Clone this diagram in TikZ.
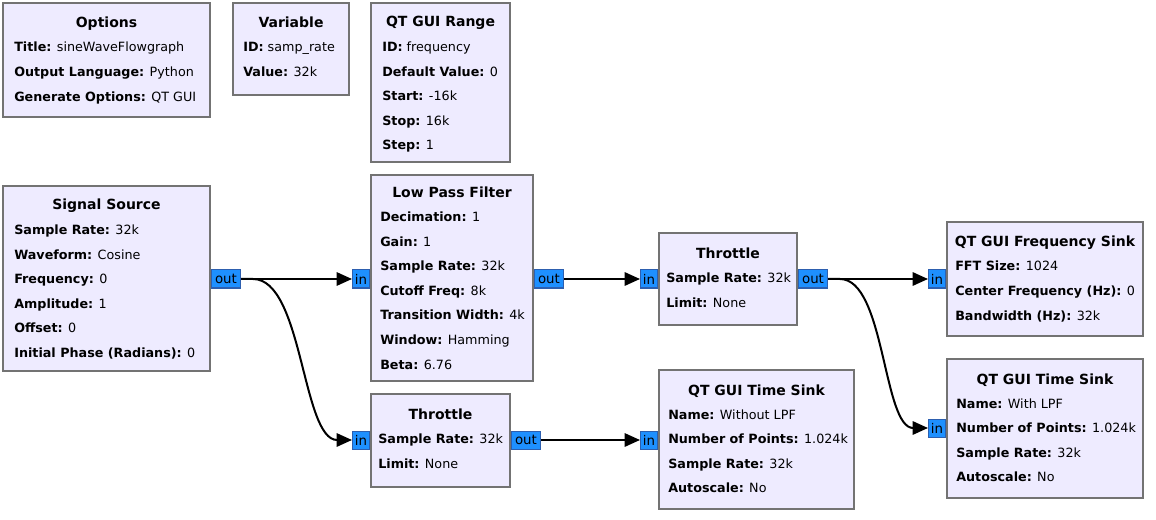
\documentclass[tikz,border=0pt]{standalone}
\usepackage{fontspec}
\setmainfont{DejaVu Sans}
\usepackage{xcolor}
\usetikzlibrary{arrows.meta,positioning,calc,fit}

\definecolor{blkfill}{RGB}{238,235,255}
\definecolor{blkline}{RGB}{115,115,115}
\definecolor{portfill}{RGB}{30,144,255}
\definecolor{portline}{RGB}{45,95,175}
\newcommand{\kv}[2]{\textbf{#1:} #2}
\newcommand{\params}[1]{\begin{tabular}[t]{@{}l@{}}#1\end{tabular}}

\begin{document}
\begin{tikzpicture}[x=0.75pt, y=-0.75pt,
    blk/.style={draw=blkline, fill=blkfill, line width=1.5pt, inner sep=0pt},
    ttl/.style={font=\fontsize{10.5}{18.45}\selectfont\bfseries, anchor=base, inner sep=0pt},
    prm/.style={font=\fontsize{9.55}{18.45}\selectfont, anchor=base west, inner sep=0pt},
    port/.style={draw=portline, fill=portfill, line width=0.75pt, minimum height=13.5pt, inner sep=0pt, font=\fontsize{10}{11}\selectfont},
    outp/.style={port, minimum width=21.75pt, anchor=west},
    inp/.style={port, minimum width=12.75pt, anchor=east},
    wire/.style={line width=1.5pt, -{Triangle[length=11.5pt,width=10pt]}}]
    \useasboundingbox (0,0) rectangle (1156,520);

    % Rows of the ports
    \coordinate (rowa) at (0,279);
    \coordinate (rowb) at (0,440);
    \coordinate (rowc) at (0,428);

    % Options
    \node[blk, fit={(3,3) (210,117)}] (opts) {};
    \node[ttl] (optsttl) at ($(opts.north)+(0,25.5)$) {Options};
    \node[prm] (optsprm) at ($(opts.north west)+(12,50)$) {\params{\kv{Title}{sineWaveFlowgraph}\\ \kv{Output Language}{Python}\\ \kv{Generate Options}{QT GUI}}};

    % Variable
    \node[blk, fit={(233,3) (349,95)}] (var) {};
    \node[ttl] (varttl) at ($(var.north)+(0,26)$) {Variable};
    \node[prm] (varprm) at ($(var.north west)+(11,50)$) {\params{\kv{ID}{samp\_rate}\\ \kv{Value}{32k}}};

    % QT GUI Range
    \node[blk, fit={(371,3) (510,162)}] (rng) {};
    \node[ttl] (rngttl) at ($(rng.north)+(0,25)$) {QT GUI Range};
    \node[prm] (rngprm) at ($(rng.north west)+(12,49.5)$) {\params{\kv{ID}{frequency}\\ \kv{Default Value}{0}\\ \kv{Start}{-16k}\\ \kv{Stop}{16k}\\ \kv{Step}{1}}};

    % Signal Source
    \node[blk, fit={(3,186) (210,371)}] (sig) {};
    \node[ttl] (sigttl) at ($(sig.north)+(0,25)$) {Signal Source};
    \node[prm] (sigprm) at ($(sig.north west)+(12,49.5)$) {\params{\kv{Sample Rate}{32k}\\ \kv{Waveform}{Cosine}\\ \kv{Frequency}{0}\\ \kv{Amplitude}{1}\\ \kv{Offset}{0}\\ \kv{Initial Phase (Radians)}{0}}};

    % Low Pass Filter
    \node[blk, fit={(371,175) (533,381)}] (lpf) {};
    \node[ttl] (lpfttl) at ($(lpf.north)+(0,23.5)$) {Low Pass Filter};
    \node[prm] (lpfprm) at ($(lpf.north west)+(10,47.5)$) {\params{\kv{Decimation}{1}\\ \kv{Gain}{1}\\ \kv{Sample Rate}{32k}\\ \kv{Cutoff Freq}{8k}\\ \kv{Transition Width}{4k}\\ \kv{Window}{Hamming}\\ \kv{Beta}{6.76}}};

    % Throttle (after the filter)
    \node[blk, fit={(659,233) (797,325)}] (thra) {};
    \node[ttl] (thrattl) at ($(thra.north)+(0,26)$) {Throttle};
    \node[prm] (thraprm) at ($(thra.north west)+(8,50.5)$) {\params{\kv{Sample Rate}{32k}\\ \kv{Limit}{None}}};

    % QT GUI Frequency Sink
    \node[blk, fit={(947,222) (1143,336)}] (fsnk) {};
    \node[ttl] (fsnkttl) at ($(fsnk.north)+(0,26)$) {QT GUI Frequency Sink};
    \node[prm] (fsnkprm) at ($(fsnk.north west)+(9,50)$) {\params{\kv{FFT Size}{1024}\\ \kv{Center Frequency (Hz)}{0}\\ \kv{Bandwidth (Hz)}{32k}}};

    % Throttle (direct path)
    \node[blk, fit={(371,394) (510,487)}] (thrb) {};
    \node[ttl] (thrbttl) at ($(thrb.north)+(0,26)$) {Throttle};
    \node[prm] (thrbprm) at ($(thrb.north west)+(8,50.5)$) {\params{\kv{Sample Rate}{32k}\\ \kv{Limit}{None}}};

    % QT GUI Time Sink (without LPF)
    \node[blk, fit={(659,370) (854,509)}] (tsnka) {};
    \node[ttl] (tsnkattl) at ($(tsnka.north)+(0,26)$) {QT GUI Time Sink};
    \node[prm] (tsnkaprm) at ($(tsnka.north west)+(10,50)$) {\params{\kv{Name}{Without LPF}\\ \kv{Number of Points}{1.024k}\\ \kv{Sample Rate}{32k}\\ \kv{Autoscale}{No}}};

    % QT GUI Time Sink (with LPF)
    \node[blk, fit={(947,359) (1143,498)}] (tsnkb) {};
    \node[ttl] (tsnkbttl) at ($(tsnkb.north)+(0,26)$) {QT GUI Time Sink};
    \node[prm] (tsnkbprm) at ($(tsnkb.north west)+(10,50)$) {\params{\kv{Name}{With LPF}\\ \kv{Number of Points}{1.024k}\\ \kv{Sample Rate}{32k}\\ \kv{Autoscale}{No}}};

    % Ports
    \node[outp] (sigout) at (sig.east |- rowa) {out};
    \node[inp] (lpfin) at (lpf.west |- rowa) {in};
    \node[outp] (lpfout) at (lpf.east |- rowa) {out};
    \node[inp] (thrain) at (thra.west |- rowa) {in};
    \node[outp] (thraout) at (thra.east |- rowa) {out};
    \node[inp] (fsnkin) at (fsnk.west |- rowa) {in};
    \node[inp] (thrbin) at (thrb.west |- rowb) {in};
    \node[outp] (thrbout) at (thrb.east |- rowb) {out};
    \node[inp] (tsnkain) at (tsnka.west |- rowb) {in};
    \node[inp] (tsnkbin) at (tsnkb.west |- rowc) {in};

    % Connections
    \draw[wire] (sigout) -- (lpfin);
    \draw[wire] (lpfout) -- (thrain);
    \draw[wire] (thraout) -- (fsnkin);
    \draw[wire] (thrbout) -- (tsnkain);
    \draw[wire] (sigout.east) -- ++(12,0) .. controls +(50,0) and +(-50,0) .. (thrbin.west);
    \draw[wire] (thraout.east) -- ++(12,0) .. controls +(45,0) and +(-45,0) .. (tsnkbin.west);
\end{tikzpicture}
\end{document}
